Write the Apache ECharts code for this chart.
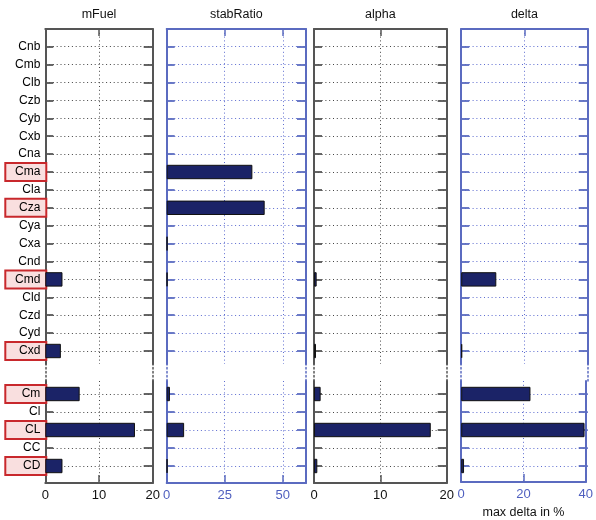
<!DOCTYPE html>
<html><head><meta charset="utf-8">
<script src="https://cdn.jsdelivr.net/npm/echarts@6/dist/echarts.min.js"></script>
<style>html,body{margin:0;padding:0;background:#fff}#c{width:596px;height:520px}</style>
</head><body><div id="c"></div>
<script>
// ---- data ----
const topCats = ['Cnb','Cmb','Clb','Czb','Cyb','Cxb','Cna','Cma','Cla','Cza','Cya','Cxa','Cnd','Cmd','Cld','Czd','Cyd','Cxd'];
const bottomCats = ['Cm','Cl','CL','CC','CD'];
const highlighted = ['Cma','Cza','Cmd','Cxd','Cm','CL','CD'];
const panelNames = ['mFuel','stabRatio','alpha','delta'];
const panelMax = [20, 60, 20, 40];
const panelTickStep = [10, 25, 10, 20];
const xAxisLabel = 'max delta in %';

const mFuelTop      = [0,0,0,0,0,0,0,0,0,0,0,0,0,3.2,0,0,0,2.9];
const mFuelBottom   = [6.4,0,16.7,0,3.2];
const stabRatioTop  = [0,0,0,0,0,0,0,36.9,0,42.2,0,0.3,0,0.3,0,0,0,0];
const stabRatioBottom = [1.4,0,7.5,0,0.3];
const alphaTop      = [0,0,0,0,0,0,0,0,0,0,0,0,0,0.4,0,0,0,0.3];
const alphaBottom   = [1.0,0,17.6,0,0.5];
const deltaTop      = [0,0,0,0,0,0,0,0,0,0,0,0,0,11.1,0,0,0,0.3];
const deltaBottom   = [21.9,0,39.0,0,0.9];

const topValues = [mFuelTop, stabRatioTop, alphaTop, deltaTop];
const bottomValues = [mFuelBottom, stabRatioBottom, alphaBottom, deltaBottom];

// ---- styles / layout ----
const FONT = "'Liberation Sans', Arial, Helvetica, sans-serif";
const panelLeft = [45.3, 166.7, 314, 461.2];
const panelWidth = [107.4, 139.3, 132.7, 126.5];
const frameColor = ['#555555', '#5b6bc0', '#555555', '#5b6bc0'];
const dotColor = ['#444444', '#5d6cd0', '#444444', '#5d6cd0'];
const tickTextColor = ['#111111', '#4f5fbf', '#111111', '#4f5fbf'];
const barFill = '#1b2367';
const dotType = [1, 2.8];

const grids = [], xAxes = [], yAxes = [], series = [];
function addGrid(g) { grids.push(g); return grids.length - 1; }

function frameY(gi, pos, c, dotted) {
  return {gridIndex: gi, type:'value', position: pos, min:0, max:1,
    axisLine:{show:true, onZero:false, lineStyle:{color:c, width: dotted ? 1.5 : 2, type: dotted ? [1.5,2.5] : 'solid'}},
    axisTick:{show:false}, axisLabel:{show:false}, splitLine:{show:false}};
}

const richLabel = {
  h:{width:30, align:'right', padding:[2,5,2,4], lineHeight:14, fontSize:12, fontFamily:FONT, color:'#000',
     backgroundColor:'#f9dfdf', borderColor:'#c8282c', borderWidth:2},
  n:{width:30, align:'right', padding:[2,5,2,4], lineHeight:14, fontSize:12, fontFamily:FONT, color:'#000'}
};

for (let p = 0; p < 4; p++) {
  const c = frameColor[p], gc = dotColor[p], tc = tickTextColor[p];
  const base = {left: panelLeft[p], width: panelWidth[p]};

  // top frame
  let gi = addGrid({...base, top: 29, height: 335});
  xAxes.push({gridIndex: gi, type:'value', position:'top', min:0, max: panelMax[p], interval: panelTickStep[p],
    name: panelNames[p], nameLocation:'middle', nameGap: 8,
    nameTextStyle:{color:'#111', fontSize:12.5, fontFamily:FONT},
    axisLine:{show:true, onZero:false, lineStyle:{color:c, width:2}},
    axisTick:{show:true, inside:true, length:7, lineStyle:{color:c, width:1.5}},
    axisLabel:{show:false},
    splitLine:{show:true, lineStyle:{color:gc, width:1, type: dotType}}});
  yAxes.push(frameY(gi,'left',c,false));
  yAxes.push(frameY(gi,'right',c,false));

  // gap
  gi = addGrid({...base, top: 364, height: 17});
  xAxes.push({gridIndex: gi, type:'value', show:false, min:0, max:1});
  yAxes.push(frameY(gi,'left',c,true));
  yAxes.push(frameY(gi,'right',c,true));

  // bottom frame
  gi = addGrid({...base, top: 381, height: 102});
  const bx = {gridIndex: gi, type:'value', position:'bottom', min:0, max: panelMax[p], interval: panelTickStep[p],
    axisLine:{show:true, onZero:false, lineStyle:{color:c, width:2}},
    axisTick:{show:true, inside:true, length:8, lineStyle:{color:c, width:1.5}},
    axisLabel:{show:true, color: tc, fontSize:13, fontFamily:FONT, margin:6, showMaxLabel: panelMax[p] % panelTickStep[p] === 0},
    splitLine:{show:true, lineStyle:{color:gc, width:1, type: dotType}}};
  if (p === 3) {
    bx.name = xAxisLabel; bx.nameLocation = 'middle'; bx.nameGap = 24;
    bx.nameTextStyle = {color:'#111', fontSize:12.5, fontFamily:FONT};
  }
  xAxes.push(bx);
  yAxes.push(frameY(gi,'left',c,false));
  yAxes.push(frameY(gi,'right',c,false));

  // category grids (top and bottom)
  const catDefs = [
    {cats: topCats, vals: topValues[p], top: 46.7, height: 304.3},
    {cats: bottomCats, vals: bottomValues[p], top: 394, height: 72}
  ];
  for (const d of catDefs) {
    gi = addGrid({...base, top: d.top, height: d.height});
    const xi = xAxes.length;
    xAxes.push({gridIndex: gi, type:'value', show:false, min:0, max: panelMax[p]});
    const yi = yAxes.length;
    yAxes.push({gridIndex: gi, type:'category', position:'left', inverse:true, boundaryGap:false, data: d.cats,
      axisLine:{show:false, onZero:false},
      axisTick:{show:true, inside:true, length:8, interval:0, lineStyle:{color:c, width:1.8}},
      axisLabel: p === 0 ? {show:true, interval:0, margin:0,
        formatter: v => (highlighted.includes(v) ? '{h|' : '{n|') + v + '}', rich: richLabel} : {show:false},
      splitLine:{show:true, interval:0, lineStyle:{color:gc, width:1, type: dotType}}});
    yAxes.push({gridIndex: gi, type:'category', position:'right', inverse:true, boundaryGap:false, data: d.cats,
      axisLine:{show:false, onZero:false},
      axisTick:{show:true, inside:true, length:9, interval:0, lineStyle:{color:c, width:1.8}},
      axisLabel:{show:false}, splitLine:{show:false}});
    series.push({type:'bar', xAxisIndex: xi, yAxisIndex: yi, barWidth: 14.4, silent:true,
      data: d.vals.map(v => v === 0 ? '-' : v),
      itemStyle:{color: barFill, borderColor:'#111', borderWidth:1}});
  }
}

const chart = echarts.init(document.getElementById('c'), null, {renderer:'canvas'});
chart.setOption({
  animation:false,
  backgroundColor:'#ffffff',
  textStyle:{fontFamily:FONT},
  grid: grids, xAxis: xAxes, yAxis: yAxes, series: series
});
</script>
</body></html>
